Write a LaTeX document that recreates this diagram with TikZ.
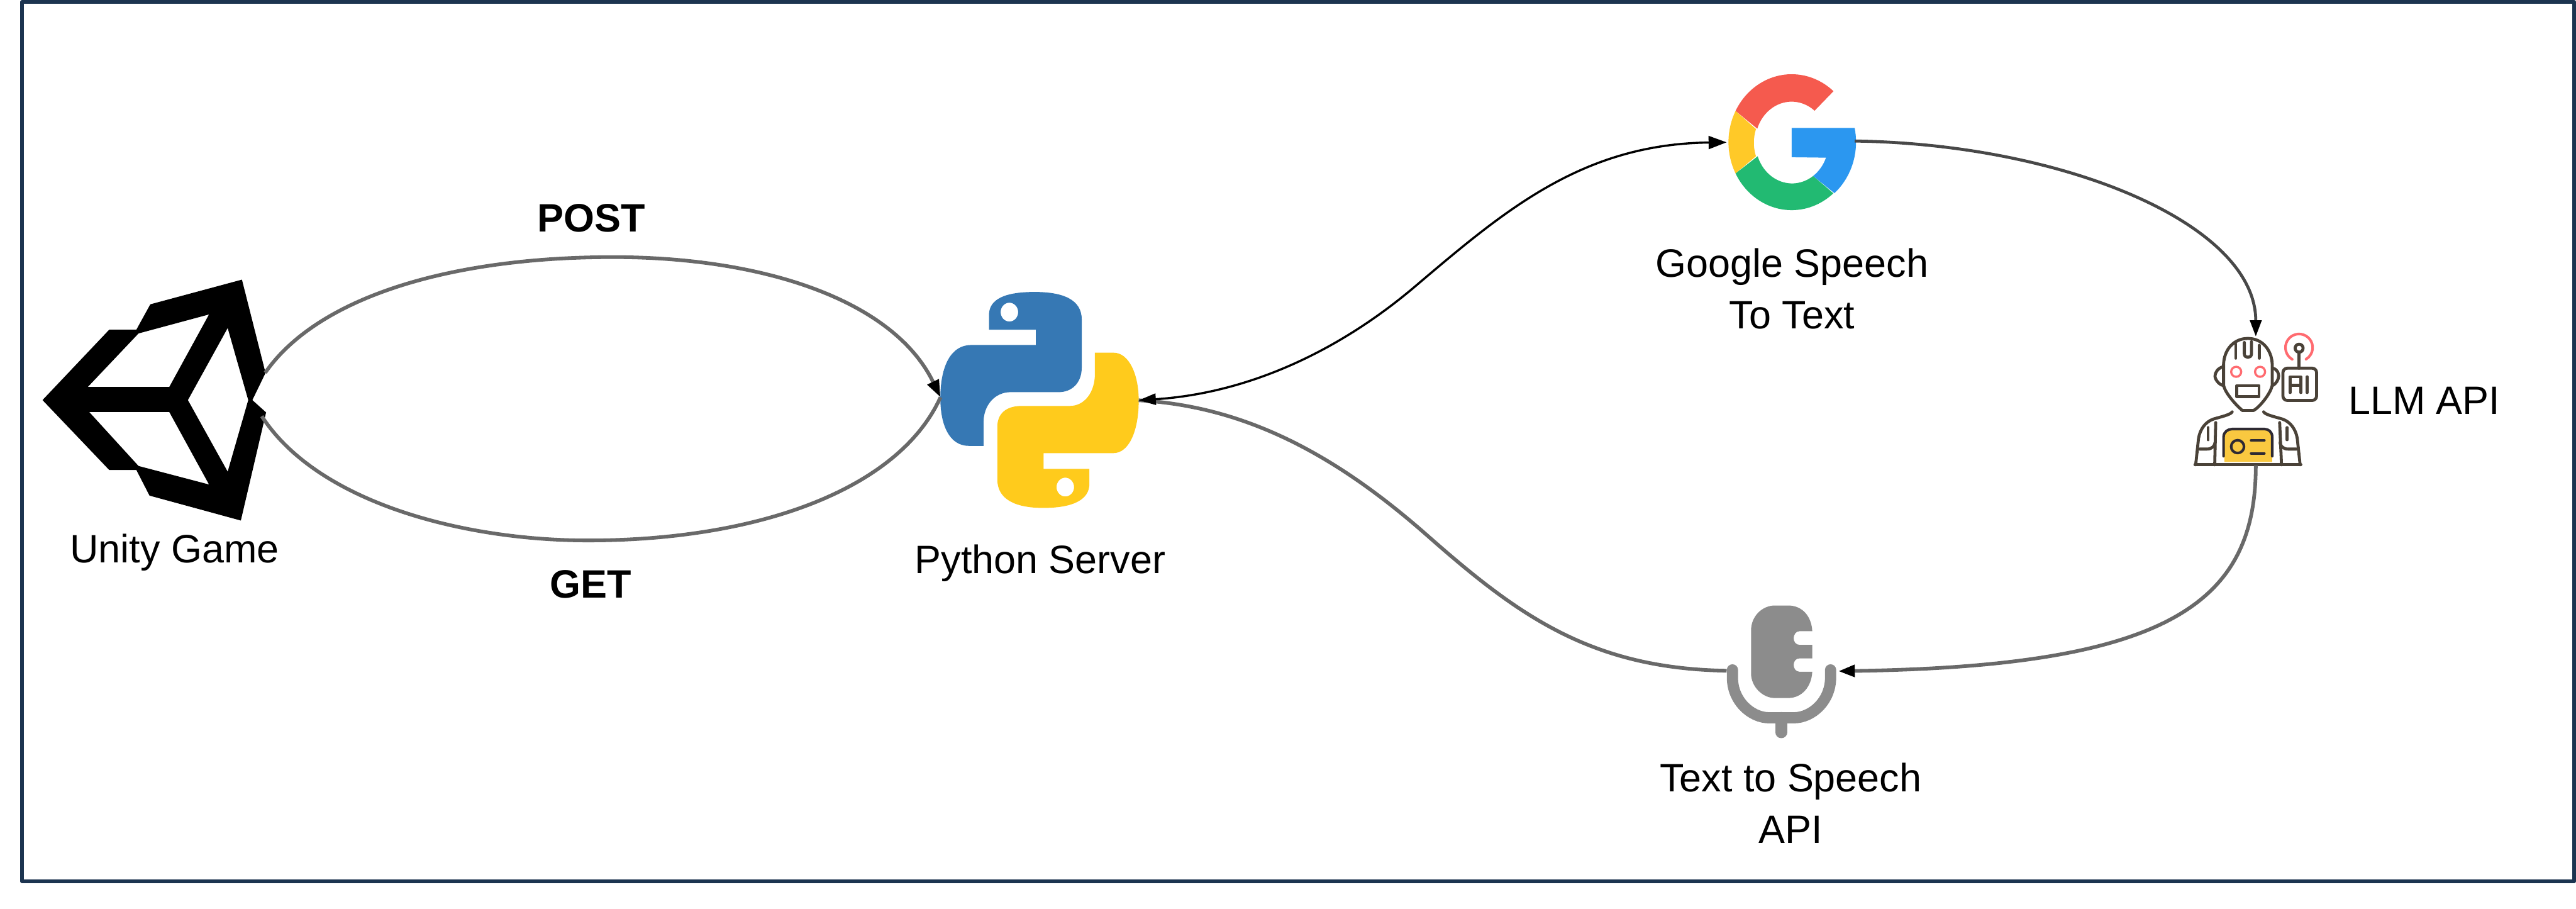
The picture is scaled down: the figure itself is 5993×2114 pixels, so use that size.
\documentclass[tikz,border=0pt]{standalone}
\usepackage{fontspec}
\setmainfont{Liberation Sans}
\usetikzlibrary{arrows.meta}
\definecolor{frameblue}{HTML}{1C3450}
\definecolor{pyblue}{HTML}{3678B4}
\definecolor{pyyellow}{HTML}{FFCB1C}
\definecolor{gred}{HTML}{F55A4E}
\definecolor{gyellow}{HTML}{FFC928}
\definecolor{ggreen}{HTML}{22BA72}
\definecolor{gblue}{HTML}{2B97F0}
\definecolor{robotline}{HTML}{4A4238}
\definecolor{robotred}{HTML}{FF6B70}
\definecolor{robotyellow}{HTML}{F9C840}
\definecolor{robotdark}{HTML}{2E2A33}
\definecolor{micgray}{HTML}{8C8C8C}
\definecolor{linkgray}{HTML}{696969}
\definecolor{linkdark}{HTML}{484848}
\tikzset{
  label text/.style={font=\fontsize{26.18}{34.14}\selectfont,inner sep=0pt,anchor=base,align=center,text=black},
  bold text/.style={label text,font=\fontsize{26.18}{34.14}\selectfont\bfseries},
  gray link/.style={draw=linkgray,line width=0.085cm},
  dark link/.style={draw=linkdark,line width=0.07cm},
  black link/.style={draw=black,line width=0.05cm},
  rline/.style={draw=robotline,line width=0.07cm,line cap=round,line join=round},
  rdark/.style={draw=robotdark,line width=0.06cm,line cap=round,line join=round},
  rred/.style={draw=robotred,line width=0.05cm,line cap=round},
}
\begin{document}
\begin{tikzpicture}[x=0.01cm,y=-0.01cm]
\useasboundingbox (0,0) rectangle (5993,2114);
\fill[white] (0,0) rectangle (5993,2114);
\draw[frameblue,line width=0.09cm,line join=round] (51.5,4.3) rectangle (5988.5,2050);

% anchor points of the connectors
\coordinate (unityTop) at (617,867);
\coordinate (unityBot) at (609,968);
\coordinate (postPeak) at (1426,598);
\coordinate (getPeak) at (1368,1257);
\coordinate (pyLeft) at (2188,924);
\coordinate (pyRight) at (2649,931);
\coordinate (bendUp) at (3290,668);
\coordinate (bendDown) at (3320,1245);
\coordinate (googleLeft) at (4017,331);
\coordinate (googleRight) at (4315,328);
\coordinate (robotTop) at (5248,783);
\coordinate (robotBot) at (5248,1083);
\coordinate (micRight) at (4277,1561);
\coordinate (micLeft) at (4017,1560);

% Unity logo
\begin{scope}[shift={(0,500)},x=0.006378cm,y=-0.00574cm]
\fill[black,even odd rule]
  (155,750)--(398,465)--(497,465)--(548,362)--(882,262)--(968,640)--(920,750)--(970,800)--(878,1238)--(545,1137)--(497,1033)--(398,1033)--cycle
  (505,480)--(762,403)--(617,697)--(320,697)--cycle
  (325,798)--(617,798)--(762,1092)--(505,1017)--cycle
  (830,458)--(905,750)--(830,1040)--(685,750)--cycle;
\end{scope}

% Python logo
\begin{scope}[shift={(2050,600)},x=0.005102cm,y=-0.005102cm]
\fill[pyblue,even odd rule] (492,327)--(492,260) .. controls (492,190) and (560,155) .. (700,155)
  .. controls (830,155) and (915,190) .. (915,280) -- (915,500)
  .. controls (915,570) and (870,612) .. (810,612) -- (590,612)
  .. controls (520,612) and (467,670) .. (467,750) -- (467,857) -- (400,857)
  .. controls (310,857) and (270,760) .. (270,640)
  .. controls (270,490) and (320,397) .. (410,397) -- (706,397) -- (706,327) -- cycle
  (585,247) ellipse [x radius=40,y radius=43];
\fill[pyyellow,even odd rule] (975,432)--(1060,432) .. controls (1130,432) and (1175,530) .. (1175,650)
  .. controls (1175,790) and (1130,890) .. (1060,890) -- (741,890) -- (741,962) -- (950,962) -- (950,1030)
  .. controls (950,1100) and (880,1140) .. (740,1140)
  .. controls (610,1140) and (530,1100) .. (530,1010) -- (530,770)
  .. controls (530,710) and (570,675) .. (640,675) -- (860,675)
  .. controls (930,675) and (975,610) .. (975,530) -- cycle
  (840,1045) ellipse [x radius=40,y radius=43];
\end{scope}

% Google G
\begin{scope}[shift={(4168.3,330.7)},x=0.0033333cm,y=0.0033333cm]
\fill[gred] (152.6:442 and 475) arc[start angle=152.6,end angle=48.6,x radius=442,y radius=475]
  -- (160,220) arc[start angle=51,end angle=160.4,x radius=255,y radius=284] -- cycle;
\fill[gyellow] (152.6:442 and 475) arc[start angle=152.6,end angle=207.4,x radius=442,y radius=475]
  -- (-250,-98) arc[start angle=199.4,end angle=160.4,x radius=255,y radius=284] -- cycle;
\fill[ggreen] (207.4:442 and 475) arc[start angle=207.4,end angle=311.2,x radius=442,y radius=475]
  -- (150,-236) arc[start angle=305.3,end angle=199.4,x radius=255,y radius=284] -- cycle;
\fill[gblue] (0,100) -- (440,100) arc[start angle=12,end angle=-48.8,x radius=442,y radius=475]
  -- (150,-236) arc[start angle=-54.7,end angle=-21.5,x radius=255,y radius=284] -- (0,-105) -- cycle;
\end{scope}

% Robot
\begin{scope}[shift={(5000,700)},x=0.0033333cm,y=-0.0033333cm]
\fill[robotyellow] (525,1125) -- (525,950) .. controls (525,915) and (550,895) .. (580,895) -- (805,895)
  .. controls (835,895) and (860,915) .. (860,950) -- (860,1125) -- cycle;
\draw[rdark] (520,1085) -- (520,950) .. controls (520,915) and (550,895) .. (580,895) -- (805,895)
  .. controls (835,895) and (860,915) .. (860,950) -- (860,1085);
\draw[rdark] (618,1018) circle (45);
\draw[rdark] (712,975) -- (805,975) (712,1065) -- (805,1065);
\draw[rline] (690,262) .. controls (590,262) and (525,340) .. (520,440) -- (520,590)
  .. controls (530,640) and (600,720) .. (640,755) -- (650,765) -- (730,765) -- (745,755)
  .. controls (790,720) and (850,640) .. (860,590) -- (860,440)
  .. controls (855,340) and (790,262) .. (690,262) -- cycle;
\draw[rline] (605,300) -- (605,400);
\draw[rline] (665,290) -- (665,370) .. controls (665,402) and (715,402) .. (715,370) -- (715,285);
\draw[rline] (770,310) -- (770,400);
\draw[rline] (515,460) .. controls (480,470) and (460,500) .. (460,525) .. controls (460,550) and (490,585) .. (515,590);
\draw[rline] (865,470) .. controls (900,480) and (905,510) .. (905,525) .. controls (905,550) and (885,580) .. (865,590);
\draw[rred] (608,495) circle (35);
\draw[rred] (775,495) circle (35);
\draw[rline] (612,592) rectangle (768,668);
\draw[rline,rounded corners=0.1cm] (935,470) rectangle (1170,695);
\draw[rline] (985,640) -- (985,530) -- (1060,530) -- (1060,640) (985,590) -- (1060,590);
\draw[rline] (1105,530) -- (1105,640);
\draw[rline] (1048,358) -- (1048,470);
\draw[rline] (1048,330) circle (28);
\draw[rred,line width=0.06cm] (1000,408) arc[start angle=120,end angle=419,radius=95];
\draw[rline] (580,775) .. controls (570,795) and (500,810) .. (450,825) .. controls (390,845) and (355,900) .. (345,960) -- (325,1145);
\draw[rline] (800,775) .. controls (810,795) and (880,810) .. (930,825) .. controls (990,845) and (1025,900) .. (1035,960) -- (1055,1145);
\draw[rline] (320,1145) -- (1060,1145);
\draw[rline] (465,850) -- (458,1145);
\draw[rline] (912,850) -- (925,1145);
\draw[rline] (412,885) -- (412,970);
\draw[rline] (965,885) -- (965,970);
\draw[rline] (352,1035) -- (405,1035) .. controls (440,1035) and (460,1010) .. (460,990);
\draw[rline] (1030,1035) -- (970,1035) .. controls (935,1035) and (915,1010) .. (915,990);
\end{scope}

% Microphone
\begin{scope}[shift={(3900,1350)},x=0.0033333cm,y=-0.0033333cm]
\fill[micgray] (522,350) .. controls (522,250) and (600,175) .. (690,175) -- (780,175)
  .. controls (880,175) and (945,250) .. (950,355) -- (860,355)
  .. controls (835,355) and (820,380) .. (820,403) .. controls (820,428) and (835,450) .. (860,450)
  -- (950,450) -- (950,545) -- (860,545)
  .. controls (835,545) and (820,565) .. (820,590) .. controls (820,615) and (835,638) .. (860,638) -- (950,638)
  .. controls (945,740) and (880,822) .. (780,822) -- (690,822)
  .. controls (600,822) and (522,740) .. (522,650) -- cycle;
\draw[micgray,line width=0.26cm,line cap=round] (392,625) -- (392,680)
  .. controls (392,840) and (520,960) .. (650,960) -- (820,960)
  .. controls (950,960) and (1078,840) .. (1078,680) -- (1078,625);
\draw[micgray,line width=0.27cm,line cap=round] (733,960) -- (733,1062);
\end{scope}

% Connectors
\draw[gray link,-{Triangle[length=0.4cm,width=0.28cm,black]}] (unityTop) .. controls (740,690) and (1050,598) .. (postPeak)
  .. controls (1780,598) and (2080,700) .. (pyLeft);
\draw[gray link] (unityBot) .. controls (740,1170) and (1080,1257) .. (getPeak)
  .. controls (1760,1257) and (2090,1140) .. (pyLeft);
\draw[gray link] (micLeft) .. controls (3700,1555) and (3530,1430) .. (bendDown)
  .. controls (3110,1060) and (2900,945) .. (pyRight);
\draw[black link,{Triangle[length=0.4cm,width=0.26cm,black]}-{Triangle[length=0.42cm,width=0.3cm,black]}] (pyRight) .. controls (2900,915) and (3110,820) .. (bendUp)
  .. controls (3500,490) and (3680,335) .. (googleLeft);
\draw[dark link,-{Triangle[length=0.38cm,width=0.26cm,black]}] (googleRight) .. controls (4800,335) and (5248,520) .. (robotTop);
\draw[gray link,-{Triangle[length=0.38cm,width=0.27cm,black]}] (robotBot) .. controls (5248,1400) and (5050,1550) .. (micRight);

% Labels
\node[label text] (unityLabel) at (406,1309) {Unity Game};
\node[label text] (pythonLabel) at (2420,1333) {Python Server};
\node[bold text] (postLabel) at (1375,539) {POST};
\node[bold text] (getLabel) at (1374,1391) {GET};
\node[label text] (googleLabel) at (4169,765) {Google Speech\\To Text};
\node[label text] (ttsLabel) at (4166,1962) {Text to Speech\\API};
\node[label text] (llmLabel) at (5640,963) {LLM API};
\end{tikzpicture}
\end{document}
